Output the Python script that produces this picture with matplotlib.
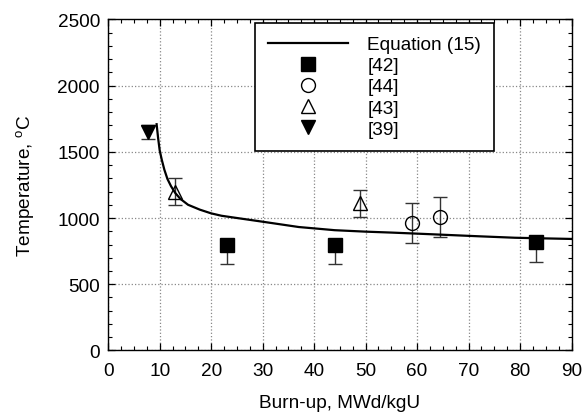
import matplotlib
matplotlib.use('Agg')
import matplotlib.pyplot as plt
from matplotlib.ticker import MultipleLocator

plt.rcParams['font.family'] = ['Liberation Sans', 'DejaVu Sans']
plt.rcParams['mathtext.fontset'] = 'custom'
plt.rcParams['mathtext.rm'] = 'Liberation Sans'

# Equation (15) curve
eq_x = [9.4, 9.7, 10.0, 10.4, 10.9, 11.5, 12.2, 13.0, 14.0, 15.5, 17.8, 20.0,
        22.0, 25.0, 30.0, 37.0, 44.0, 50.0, 55.0, 60.0, 66.0, 72.0, 79.0, 85.0, 90.0]
eq_y = [1708, 1600, 1510, 1440, 1365, 1295, 1240, 1190, 1145, 1100, 1063, 1035,
        1017, 1000, 972, 932, 908, 897, 890, 882, 872, 862, 851, 846, 842]

# [42] squares, only lower error bars
ref42_x = [23, 44, 83]
ref42_y = [800, 800, 820]
ref42_lo = [150, 150, 155]

# [44] circles
ref44_x = [59, 64.5]
ref44_y = [960, 1010]
ref44_err = [150, 150]

# [43] up triangles
ref43_x = [13, 49]
ref43_y = [1200, 1110]
ref43_err = [100, 100]

# [39] down triangle
ref39_x = [7.8]
ref39_y = [1650]
ref39_err = [50]

fig = plt.figure(figsize=(5.85, 4.14), dpi=100)
ax = fig.add_axes([0.185, 0.151, 0.792, 0.800])

eb = dict(ecolor='#333333', elinewidth=1.0, capsize=5, capthick=1.0, ls='none', zorder=3)

line, = ax.plot(eq_x, eq_y, color='black', lw=1.6, zorder=4, label='Equation (15)')
ax.errorbar(ref42_x, ref42_y, yerr=[ref42_lo, [0] * len(ref42_lo)], **eb)
sq, = ax.plot(ref42_x, ref42_y, 's', color='black', ms=10, ls='none', zorder=5, label='[42]')
ax.errorbar(ref44_x, ref44_y, yerr=ref44_err, **eb)
ci, = ax.plot(ref44_x, ref44_y, 'o', mfc='none', mec='black', mew=1.0, ms=10, ls='none',
              zorder=5, label='[44]')
ax.errorbar(ref43_x, ref43_y, yerr=ref43_err, **eb)
tr, = ax.plot(ref43_x, ref43_y, '^', mfc='none', mec='black', mew=1.0, ms=10, ls='none',
              zorder=5, label='[43]')
ax.errorbar(ref39_x, ref39_y, yerr=ref39_err, **eb)
td, = ax.plot(ref39_x, ref39_y, 'v', color='black', ms=10, ls='none', zorder=5, label='[39]')

ax.set_xlim(0, 90)
ax.set_ylim(0, 2500)
ax.xaxis.set_major_locator(MultipleLocator(10))
ax.xaxis.set_minor_locator(MultipleLocator(2.5))
ax.yaxis.set_major_locator(MultipleLocator(500))
ax.yaxis.set_minor_locator(MultipleLocator(100))
ax.tick_params(which='both', direction='in', top=True, right=True, labelsize=13.7)
ax.tick_params(which='major', length=5, width=0.9)
ax.tick_params(which='minor', length=3, width=0.8)
ax.tick_params(axis='x', pad=8)
ax.tick_params(axis='y', pad=6)
ax.grid(True, which='major', linestyle=':', color='#888888', lw=0.9)
for s in ax.spines.values():
    s.set_linewidth(1.0)

ax.set_xlabel('Burn-up, MWd/kgU', fontsize=13.7, labelpad=11)
ax.set_ylabel(r'Temperature, $^{\rm o}$C', fontsize=13.7, labelpad=15)

leg = ax.legend(handles=[line, sq, ci, tr, td], loc='upper left',
                bbox_to_anchor=(0.317, 0.99), borderaxespad=0, fontsize=13.7,
                handlelength=4.2, handletextpad=1.0, labelspacing=0.2, borderpad=0.7,
                numpoints=1, fancybox=False, framealpha=1, edgecolor='black')
leg.get_frame().set_linewidth(1.2)

fig.savefig('out.png', dpi=100)
